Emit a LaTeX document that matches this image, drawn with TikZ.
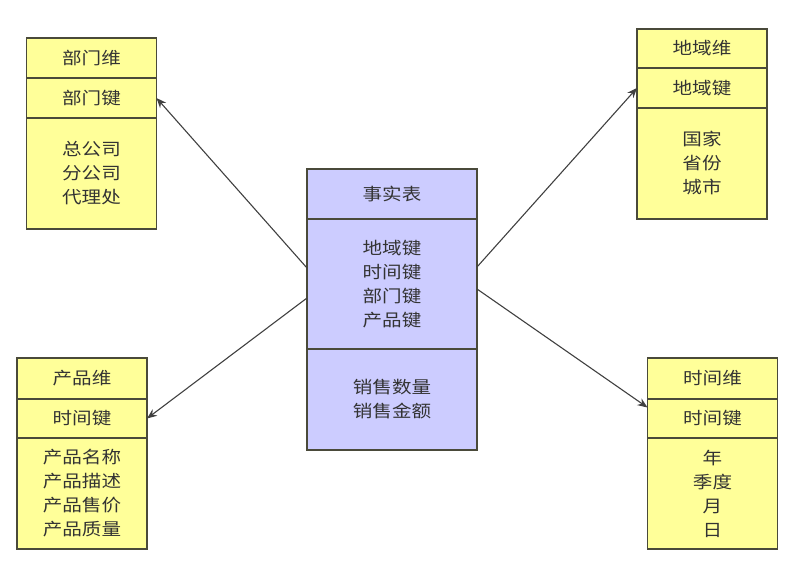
\documentclass[tikz,border=0pt]{standalone}
\usepackage{fontspec}
\newfontfamily\cjk[FakeStretch=1.15]{Noto Sans CJK SC}
\usetikzlibrary{positioning,arrows.meta,calc}

\definecolor{dimfill}{HTML}{FFFF99}
\definecolor{factfill}{HTML}{CCCCFF}
\definecolor{boxline}{HTML}{4A4A3A}
\definecolor{txt}{HTML}{333333}
\definecolor{linkline}{HTML}{404040}

\tikzset{
  part/.style={draw=boxline, line width=1.3pt, outer sep=0pt, inner sep=0pt,
    align=center, text=txt, font=\cjk\fontsize{17pt}{24pt}\selectfont},
  dim/.style={part, fill=dimfill, minimum width=130pt},
  fact/.style={part, fill=factfill, minimum width=170pt},
  link/.style={draw=linkline, line width=1.1pt, -{Stealth[length=10pt,width=8pt]}}
}

\begin{document}
\begin{tikzpicture}[x=1pt,y=1pt]
\useasboundingbox (0,0) rectangle (793,566);
% fact table
\node[fact, minimum height=50pt] (ftitle) at (392,372) {事实表};
\node[fact, minimum height=130pt, below=0pt of ftitle] (fkeys) {地域键\\时间键\\部门键\\产品键};
\node[fact, minimum height=101pt, below=0pt of fkeys] (fmeas) {销售数量\\销售金额};
% dimensions
\node[dim, minimum height=40pt] (dtitle) at (91.5,508) {部门维};
\node[dim, minimum height=40pt, below=0pt of dtitle] (dkey) {部门键};
\node[dim, minimum height=111pt, below=0pt of dkey] (dbody) {总公司\\分公司\\代理处};

\node[dim, minimum height=39pt] (gtitle) at (702,517.5) {地域维};
\node[dim, minimum height=40pt, below=0pt of gtitle] (gkey) {地域键};
\node[dim, minimum height=111pt, below=0pt of gkey] (gbody) {国家\\省份\\城市};

\node[dim, minimum height=41pt] (ptitle) at (82,187.5) {产品维};
\node[dim, minimum height=39pt, below=0pt of ptitle] (pkey) {时间键};
\node[dim, minimum height=111pt, below=0pt of pkey] (pbody) {产品名称\\产品描述\\产品售价\\产品质量};

\node[dim, minimum height=41pt] (ttitle) at (712.5,187.5) {时间维};
\node[dim, minimum height=39pt, below=0pt of ttitle] (tkey) {时间键};
\node[dim, minimum height=111pt, below=0pt of tkey] (tbody) {年\\季度\\月\\日};
% links
\draw[link] ([yshift=16pt]fkeys.west) -- (dkey.east);
\draw[link] ([yshift=-14pt]fkeys.west) -- (pkey.east);
\draw[link] ([yshift=17pt]fkeys.east) -- (gkey.west);
\draw[link] ([yshift=-5pt]fkeys.east) -- ([yshift=11pt]tkey.west);
\end{tikzpicture}
\end{document}
